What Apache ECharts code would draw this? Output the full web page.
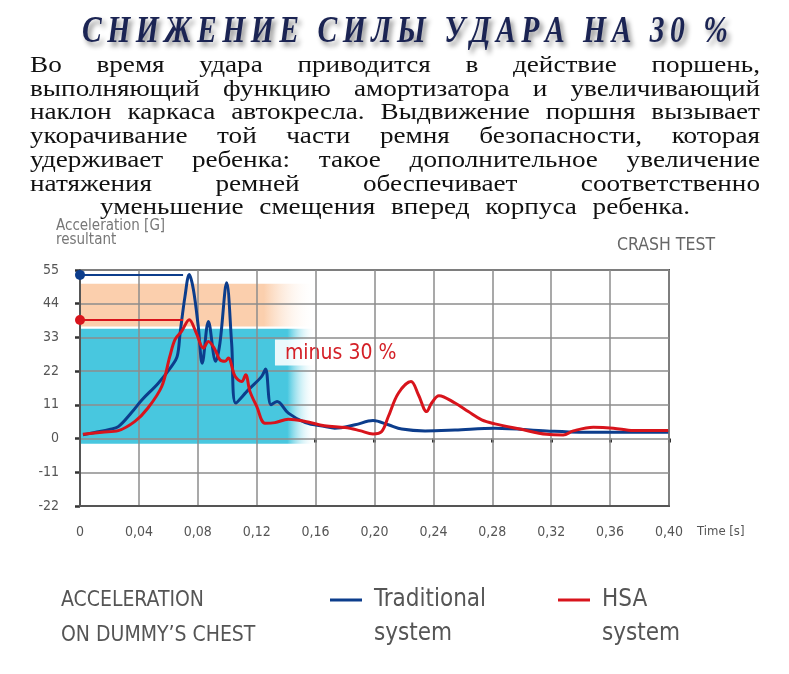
<!DOCTYPE html>
<html><head><meta charset="utf-8">
<script src="https://cdn.jsdelivr.net/npm/echarts@6/dist/echarts.min.js"></script>
<style>html,body{margin:0;padding:0;background:#fff}#c{width:789px;height:674px}</style>
</head><body><div id="c"></div>
<script>
// ---------- data ----------
const titleText = 'СНИЖЕНИЕ СИЛЫ УДАРА НА 30 %';
const bodyLines = [
  'Во время удара приводится в действие поршень,',
  'выполняющий функцию амортизатора и увеличивающий',
  'наклон каркаса автокресла. Выдвижение поршня вызывает',
  'укорачивание той части ремня безопасности, которая',
  'удерживает ребенка: такое дополнительное увеличение',
  'натяжения ремней обеспечивает соответственно',
  'уменьшение смещения вперед корпуса ребенка.'
];
const yAxisTitle = ['Acceleration [G]', 'resultant'];
const xAxisTitle = 'Time [s]';
const cornerLabel = 'CRASH TEST';
const captionLines = ['ACCELERATION', 'ON DUMMY\u2019S CHEST'];
const seriesNames = ['Traditional system', 'HSA system'];
const legendLabels = ['Traditional\nsystem', 'HSA\nsystem'];
const annotationText = 'minus 30 %';

const yMin = -22, yMax = 55, yStep = 11;
const xMin = 0, xMax = 0.40, xStep = 0.04;

// time [s], acceleration [G]
const traditional = [
  [0.002,1.2],[0.010,2.0],[0.020,3.0],[0.026,3.9],[0.035,8.5],[0.042,12.6],[0.053,18.0],
  [0.062,23.5],[0.066,26.8],[0.068,34.5],[0.0713,46.4],[0.0742,53.5],[0.077,48.6],
  [0.0803,36.6],[0.083,24.6],[0.0872,38.2],[0.0921,25.2],[0.095,31.0],[0.0996,50.8],
  [0.103,31.0],[0.1058,11.6],[0.1143,15.9],[0.1234,20.3],[0.126,22.7],[0.1297,11.0],
  [0.1338,12.1],[0.1415,8.3],[0.153,5.2],[0.1664,3.9],[0.173,3.4],[0.1868,4.5],
  [0.199,5.9],[0.2094,4.5],[0.2185,3.1],[0.2343,2.5],[0.2547,2.8],[0.2818,3.4],
  [0.3169,2.5],[0.3396,2.1],[0.3995,2.1]
];
const hsa = [
  [0.002,1.4],[0.015,2.1],[0.026,2.6],[0.0373,5.6],[0.046,9.9],[0.0555,17.0],[0.061,26.8],
  [0.0645,32.3],[0.069,35.0],[0.0742,38.8],[0.079,34.4],[0.0838,29.5],[0.0872,31.7],
  [0.0917,29.0],[0.095,25.7],[0.0985,25.2],[0.1007,26.3],[0.1053,20.3],[0.1098,18.6],
  [0.1125,20.8],[0.1154,15.4],[0.120,10.5],[0.1256,5.0],[0.1324,5.2],[0.1415,6.3],
  [0.153,5.6],[0.166,4.2],[0.180,3.6],[0.190,2.6],[0.199,1.5],[0.2049,2.3],[0.2094,7.2],
  [0.2162,14.8],[0.2248,18.6],[0.2298,14.3],[0.2354,8.8],[0.2388,11.6],[0.2438,14.0],
  [0.2547,11.6],[0.2637,8.8],[0.2728,6.1],[0.2818,4.8],[0.2988,3.1],[0.3169,1.4],
  [0.3282,1.2],[0.335,2.5],[0.3486,3.7],[0.3622,3.4],[0.3758,2.6],[0.3995,2.6]
];
// peak reference lines [from, to]
const traditionalPeakLine = [[0, 53.4], [0.070, 53.4]];
const hsaPeakLine = [[0, 38.7], [0.070, 38.7]];
// background bands: [x0, x1, yLow, yHigh]
const bands = [
  [0, 0.16, 36.6, 50.5],
  [0, 0.16, -1.7, 35.8]
];
// annotation anchor (time, G)
const annotationAnchor = [[0.1324, 32.3]];

// ---------- styling ----------
const BLUE = '#0c3d8c', RED = '#d8141c';
const bandStyles = [
  {color: '#fbcfad', fadeStart: 0.78},
  {color: '#48c7df', fadeStart: 0.88}
];
const NARROW = '"Liberation Sans Narrow", "DejaVu Sans Condensed", "Roboto", sans-serif';
const SERIF = '"Liberation Serif", "DejaVu Serif", serif';

const chart = echarts.init(document.getElementById('c'), null, {renderer: 'canvas'});

const mctx = document.createElement('canvas').getContext('2d');
function measure(text, font) { mctx.font = font; return mctx.measureText(text).width; }

const graphics = [];

// title, laid out character by character
(function () {
  const size = 37, font = `italic bold ${size}px ${SERIF}`;
  const sx = 0.8, left = 82, right = 728, y = 32;
  const chars = Array.from(titleText);
  const widths = chars.map(c => measure(c, font) * sx);
  const total = widths.reduce((a, b) => a + b, 0);
  const ls = (right - left - total) / (chars.length - 1);
  let x = left;
  chars.forEach((c, i) => {
    graphics.push({
      type: 'text', x: x, y: y, scaleX: sx, z: 10,
      style: {
        text: c, fontSize: size, fontFamily: SERIF, fontStyle: 'italic', fontWeight: 'bold',
        fill: '#1b2453', align: 'left', verticalAlign: 'middle',
        textShadowColor: 'rgba(0,0,0,0.45)', textShadowBlur: 5, textShadowOffsetX: 3, textShadowOffsetY: 4
      }
    });
    x += widths[i] + ls;
  });
})();

// body text, justified (last line centred)
(function () {
  const size = 23, font = `${size}px ${SERIF}`;
  const left = 30, right = 760;
  const y0 = 66, pitch = 23.7;
  const lastLeft = 100, lastRight = 690;
  const words7 = bodyLines[6].split(' ');
  const natural7 = words7.reduce((a, w) => a + measure(w, font), 0);
  const sx = 0.93 * (lastRight - lastLeft - (words7.length - 1) * measure(' ', font)) / natural7;
  bodyLines.forEach((line, li) => {
    const words = line.split(' ');
    const widths = words.map(w => measure(w, font) * sx);
    const sum = widths.reduce((a, b) => a + b, 0);
    let x = li < bodyLines.length - 1 ? left : lastLeft;
    const span = li < bodyLines.length - 1 ? right - left : lastRight - lastLeft;
    const gap = (span - sum) / (words.length - 1);
    words.forEach((w, i) => {
      graphics.push({
        type: 'text', x: x, y: y0 + pitch * li, scaleX: sx, z: 10,
        style: {text: w, fontSize: size, fontFamily: SERIF, fill: '#111', align: 'left', verticalAlign: 'middle'}
      });
      x += widths[i] + gap;
    });
  });
})();

// chart captions
graphics.push(
  {type: 'text', x: 56, y: 226, z: 10, style: {text: yAxisTitle[0], fontSize: 15, fontFamily: NARROW, fill: '#777', verticalAlign: 'middle'}},
  {type: 'text', x: 56, y: 240, z: 10, style: {text: yAxisTitle[1], fontSize: 15, fontFamily: NARROW, fill: '#777', verticalAlign: 'middle'}},
  {type: 'text', x: 617, y: 245, z: 10, style: {text: cornerLabel, fontSize: 17.5, fontFamily: NARROW, fill: '#666', verticalAlign: 'middle'}},
  {type: 'text', x: 697, y: 532, z: 10, style: {text: xAxisTitle, fontSize: 13, fontFamily: NARROW, fill: '#555', verticalAlign: 'middle'}},
  {type: 'text', x: 61, y: 601, z: 10, style: {text: captionLines[0], fontSize: 21, fontFamily: NARROW, fill: '#555', verticalAlign: 'middle'}},
  {type: 'text', x: 61, y: 636, z: 10, style: {text: captionLines[1], fontSize: 21, fontFamily: NARROW, fill: '#555', verticalAlign: 'middle'}}
);

function legendCfg(name, label, left) {
  return {
    data: [name], left: left, top: 549, padding: 0, icon: 'rect',
    itemWidth: 32, itemHeight: 3, selectedMode: false,
    formatter: () => '\n' + label,
    textStyle: {fontSize: 24, fontFamily: NARROW, color: '#555', lineHeight: 34, padding: [0, 0, 0, 7]}
  };
}

const xLabelFmt = v => v === 0 ? '0' : v.toFixed(2).replace('.', ',');

const option = {
  animation: false,
  backgroundColor: '#fff',
  grid: {left: 80, top: 270, right: 120, bottom: 168, show: true, borderColor: '#555', borderWidth: 2, backgroundColor: 'transparent'},
  legend: [legendCfg(seriesNames[0], legendLabels[0], 330), legendCfg(seriesNames[1], legendLabels[1], 558)],
  xAxis: [
    {type: 'value', min: xMin, max: xMax, interval: xStep, z: 1.5,
      axisLine: {show: true, onZero: false, lineStyle: {color: '#555', width: 2}},
      axisTick: {show: false}, axisLabel: {show: false},
      splitLine: {show: true, lineStyle: {color: '#8c8c8c', width: 1.5}}},
    {type: 'value', min: xMin, max: xMax, interval: xStep, position: 'bottom', offset: 6,
      axisLine: {show: false}, splitLine: {show: false},
      axisTick: {show: true, length: 4, lineStyle: {color: '#333', width: 3}},
      axisLabel: {margin: 13, fontSize: 14, fontFamily: NARROW, color: '#555', formatter: xLabelFmt}}
  ],
  yAxis: [
    {type: 'value', min: yMin, max: yMax, interval: yStep, z: 1.5,
      axisLine: {show: true, onZero: false, lineStyle: {color: '#555', width: 2}},
      axisTick: {show: false}, axisLabel: {show: false},
      splitLine: {show: true, lineStyle: {color: '#8c8c8c', width: 1.5}}},
    {type: 'value', min: yMin, max: yMax, interval: yStep, position: 'left', offset: 5,
      axisLine: {show: false}, splitLine: {show: false},
      axisTick: {show: true, length: 5, lineStyle: {color: '#333', width: 2.5}},
      axisLabel: {margin: 16, fontSize: 14, fontFamily: NARROW, color: '#555'}}
  ],
  series: [
    {
      type: 'custom', name: 'bands', z: 1, silent: true, clip: true,
      data: bands,
      encode: {x: [0, 1], y: [2, 3]},
      renderItem: function (params, api) {
        const p0 = api.coord([api.value(0), api.value(3)]);
        const p1 = api.coord([api.value(1), api.value(2)]);
        const st = bandStyles[params.dataIndex];
        return {
          type: 'rect',
          shape: {x: p0[0], y: p0[1], width: p1[0] - p0[0], height: p1[1] - p0[1]},
          style: {fill: new echarts.graphic.LinearGradient(0, 0, 1, 0, [
            {offset: 0, color: st.color}, {offset: st.fadeStart, color: st.color},
            {offset: 1, color: 'rgba(255,255,255,0)'}])}
        };
      }
    },
    {
      type: 'custom', name: 'annotation', z: 1.2, silent: true,
      data: annotationAnchor,
      renderItem: function (params, api) {
        const p = api.coord([api.value(0), api.value(1)]);
        return {
          type: 'group', children: [
            {type: 'rect', shape: {x: p[0], y: p[1], width: 128, height: 26},
              style: {fill: 'rgba(255,255,255,0.88)'}},
            {type: 'text', x: p[0] + 10, y: p[1] + 14,
              style: {text: annotationText, fontSize: 21, fontFamily: NARROW, fill: '#d42027', align: 'left', verticalAlign: 'middle'}}
          ]
        };
      }
    },
    {
      type: 'line', name: seriesNames[0], data: traditional, z: 3,
      symbol: 'none', smooth: 0.35, color: BLUE,
      lineStyle: {width: 3, color: BLUE},
      markLine: {silent: true, symbol: ['circle', 'none'], symbolSize: 10, label: {show: false},
        lineStyle: {color: BLUE, width: 2, type: 'solid'},
        data: [[{coord: traditionalPeakLine[0]}, {coord: traditionalPeakLine[1]}]]}
    },
    {
      type: 'line', name: seriesNames[1], data: hsa, z: 4,
      symbol: 'none', smooth: 0.35, color: RED,
      lineStyle: {width: 3, color: RED},
      markLine: {silent: true, symbol: ['circle', 'none'], symbolSize: 10, label: {show: false},
        lineStyle: {color: RED, width: 2, type: 'solid'},
        data: [[{coord: hsaPeakLine[0]}, {coord: hsaPeakLine[1]}]]}
    }
  ],
  graphic: graphics
};
chart.setOption(option);
</script>
</body></html>
